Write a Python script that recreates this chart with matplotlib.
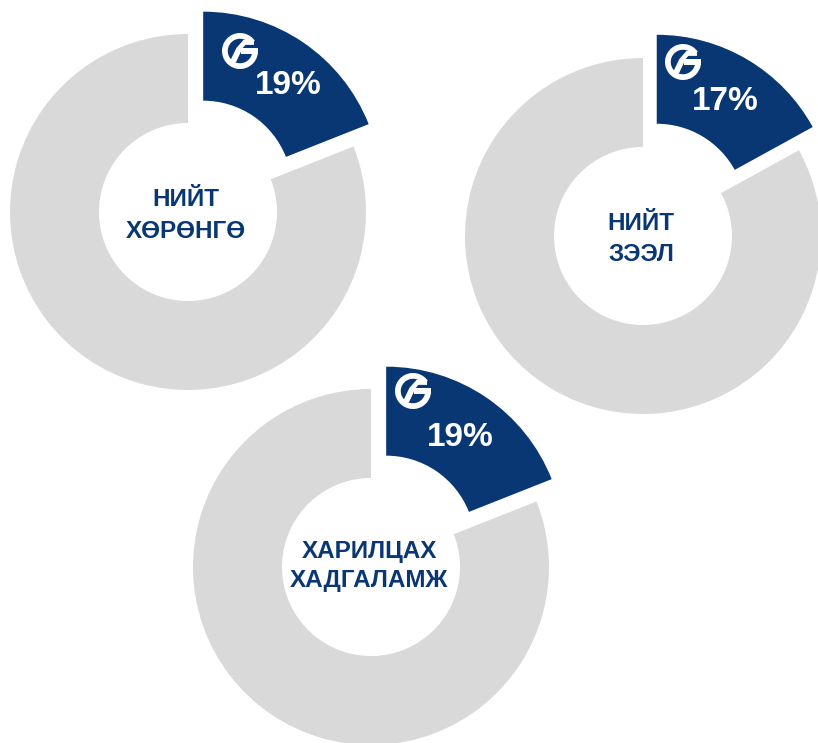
import matplotlib
matplotlib.use("Agg")
import matplotlib.pyplot as plt
from matplotlib.patches import Wedge, Polygon

# ---- data ----
titles = ["НИЙТ\nХӨРӨНГӨ", "НИЙТ\nЗЭЭЛ", "ХАРИЛЦАХ\nХАДГАЛАМЖ"]
shares = [19, 17, 19]
pct_labels = ["19%", "17%", "19%"]

# ---- layout (pixels, y measured from top) ----
W, H = 818, 743
centers = [(188, 212), (643, 236), (371, 567)]
pct_pos = [(288, 94), (725, 110), (460, 446)]      # centre x, baseline y
logo_pos = [(240, 51), (683, 62), (413, 391)]
title_base = [(206, 238), (230, 261), (558, 587)]
R = 178
EXP = 27
NAVY = "#083773"
GREY = "#D9D9D9"
FONT = ["Liberation Sans", "DejaVu Sans"]

fig = plt.figure(figsize=(W / 100, H / 100), dpi=100)
ax = fig.add_axes([0, 0, 1, 1])


def draw_logo(ax, x, y, r=18):
    ring = Wedge((x, y), r, 35, 360, width=r * 0.32, facecolor="white",
                 edgecolor="none", zorder=5)
    ax.add_patch(ring)
    # horizontal bar of the "G"
    bar = Polygon([(x + 0.05 * r, y - 0.17 * r), (x + r, y - 0.17 * r),
                   (x + r, y + 0.17 * r), (x + 0.05 * r, y + 0.17 * r)],
                  closed=True, facecolor="white", edgecolor="none", zorder=5)
    ax.add_patch(bar)
    # slanted inner stroke
    stroke = Polygon([(x - 0.58 * r, y - 0.62 * r), (x - 0.22 * r, y - 0.62 * r),
                      (x + 0.15 * r, y + 0.17 * r), (x - 0.2 * r, y + 0.17 * r)],
                     closed=True, facecolor="white", edgecolor="none", zorder=5)
    ax.add_patch(stroke)
    top = Polygon([(x - 0.2 * r, y + 0.17 * r), (x + 0.2 * r, y + 0.62 * r),
                   (x + 0.78 * r, y + 0.62 * r), (x + 0.78 * r, y + 0.34 * r),
                   (x + 0.3 * r, y + 0.34 * r), (x + 0.15 * r, y + 0.17 * r)],
                  closed=True, facecolor="white", edgecolor="none", zorder=5)
    ax.add_patch(top)


for i in range(3):
    cx, cy = centers[i]
    ax.pie([shares[i], 100 - shares[i]], radius=R, center=(cx, H - cy),
           startangle=90, counterclock=False, explode=[EXP, 0],
           colors=[NAVY, GREY], wedgeprops=dict(width=R * 0.5, linewidth=0),
           frame=True)
    px, pb = pct_pos[i]
    ax.text(px, H - pb, pct_labels[i], ha="center", va="baseline",
            fontsize=24, fontweight="bold", color="white", family=FONT,
            zorder=6)
    lx, ly = logo_pos[i]
    draw_logo(ax, lx, H - ly)
    for line, base in zip(titles[i].split("\n"), title_base[i]):
        ax.text(cx - 2, H - base, line, ha="center", va="baseline",
                fontsize=17.5, fontweight="bold", color=NAVY, family=FONT,
                zorder=6)

ax.set_xlim(0, W)
ax.set_ylim(0, H)
ax.set_aspect("equal")
ax.axis("off")
fig.savefig("out.png", dpi=100, facecolor="white")
